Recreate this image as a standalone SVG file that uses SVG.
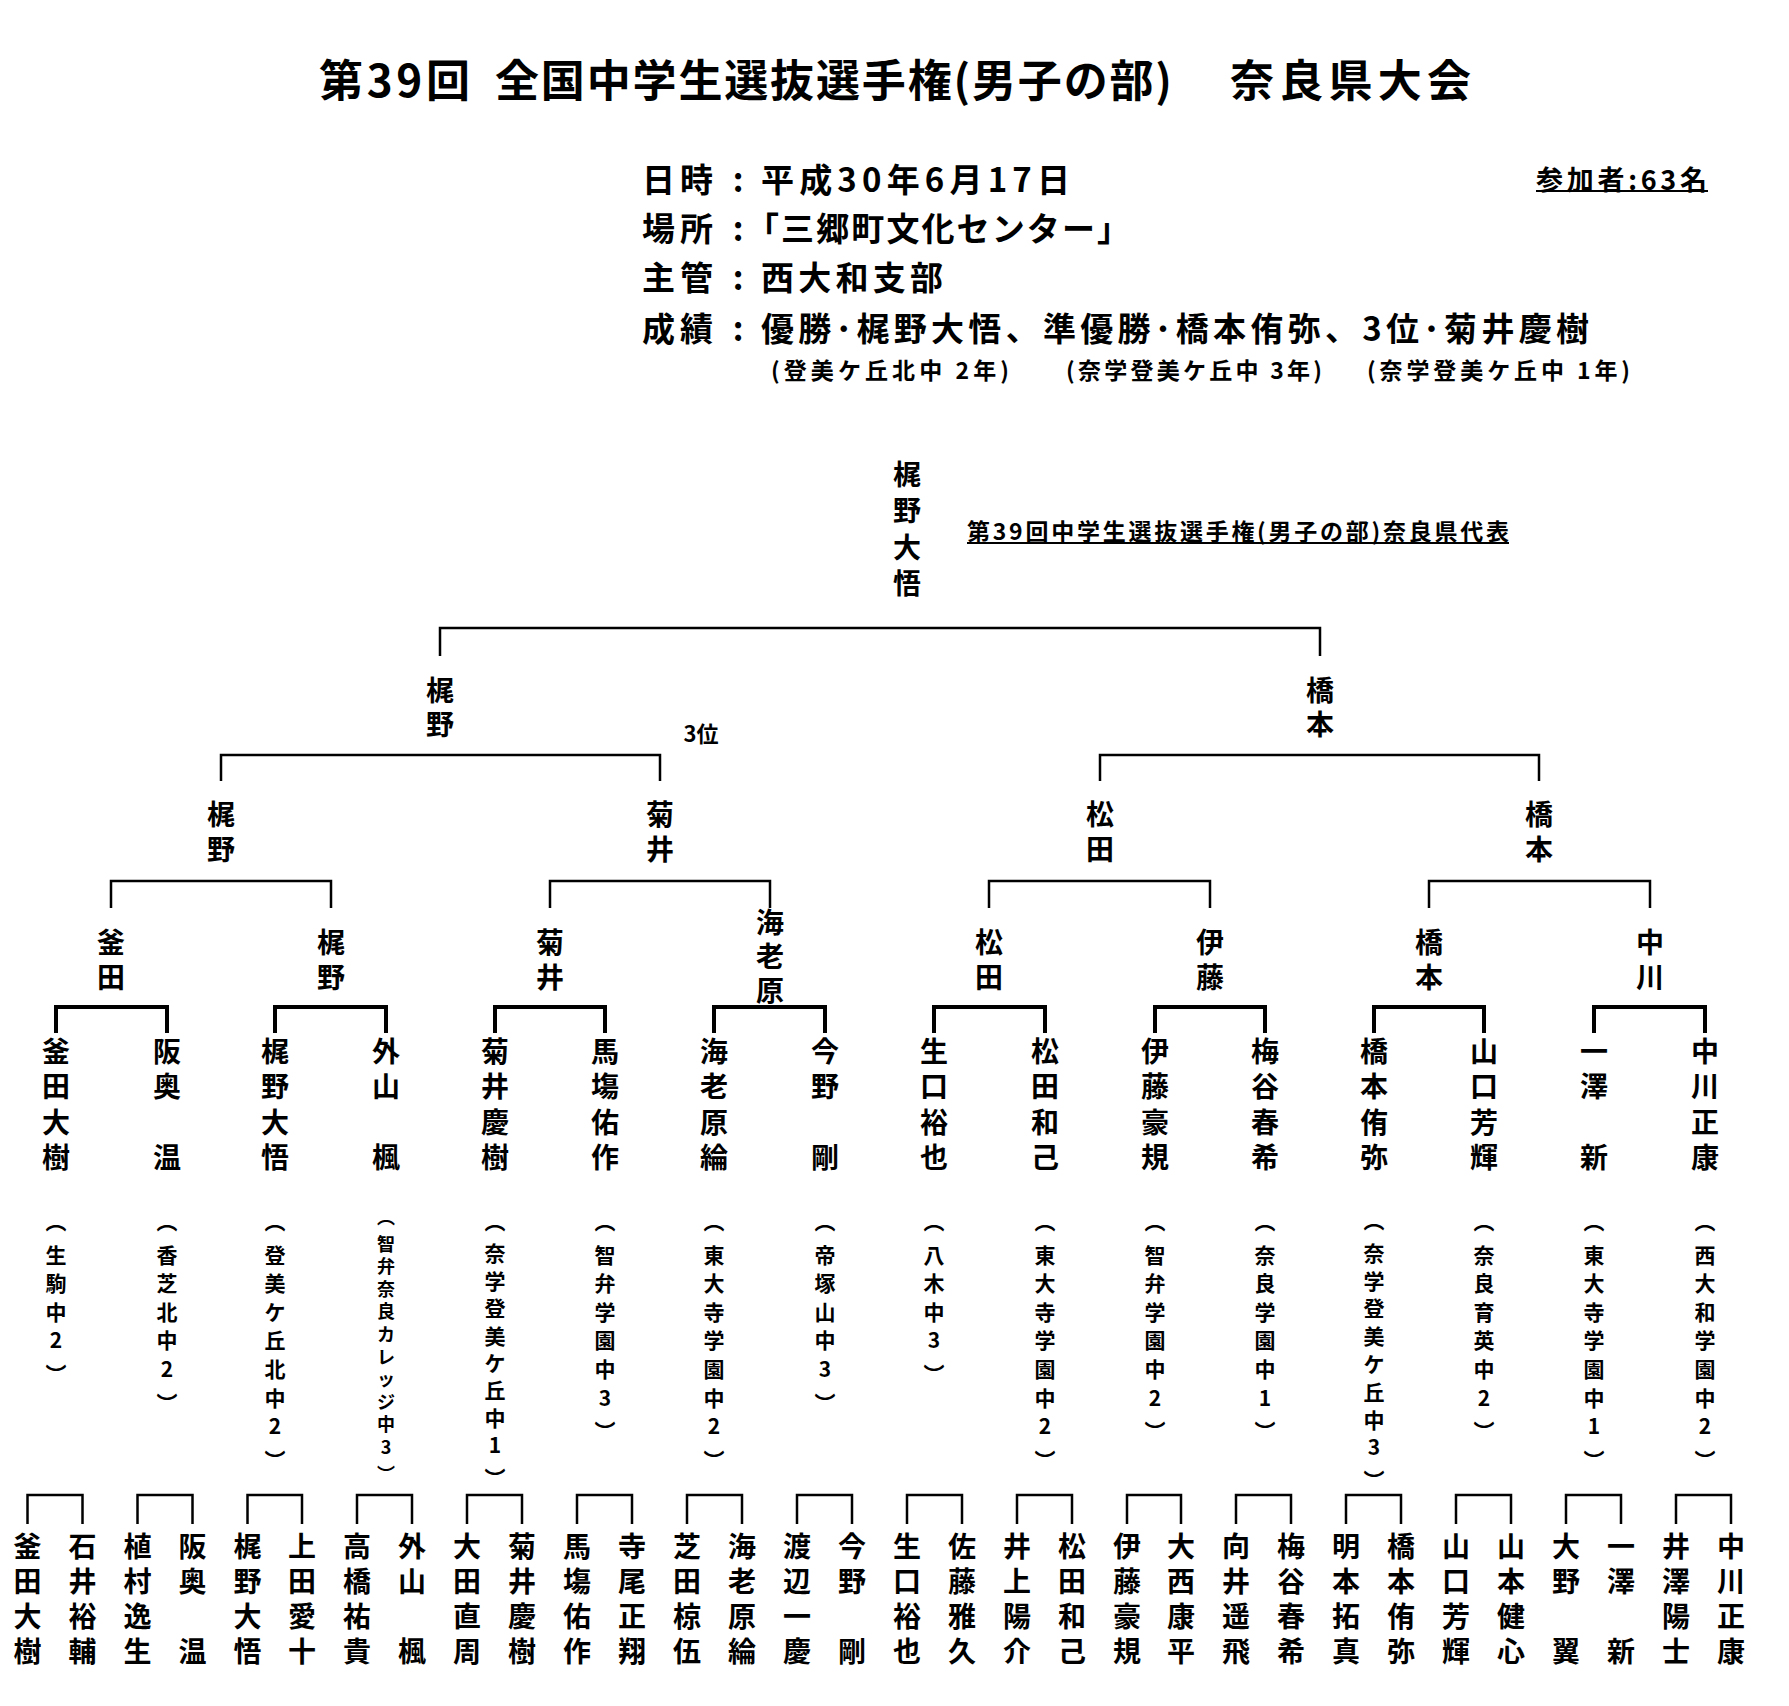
<svg xmlns="http://www.w3.org/2000/svg" width="1789" height="1706" viewBox="0 0 1789 1706">
<style>
text{font-family:"Noto Sans CJK JP","Noto Sans CJK SC",sans-serif;font-weight:700;fill:#000}
.c{text-anchor:middle;dominant-baseline:central}
.s{dominant-baseline:central}
.nm{font-size:28px}
.sc{font-size:21px}
.sc2{font-size:18px}
.ln{stroke:#000;stroke-width:2.5;fill:none}
.lt{stroke-width:4}
.ul{stroke:#000;stroke-width:2}
</style>
<rect width="1789" height="1706" fill="#fff"/>
<g id="title">
<text class="s" x="319" y="78" font-size="44" textLength="151">第39回</text>
<text class="s" x="495" y="78" font-size="44" textLength="677">全国中学生選抜選手権(男子の部)</text>
<text class="s" x="1230" y="78" font-size="44" textLength="241">奈良県大会</text>
</g>
<g id="info">
<text class="s" x="642" y="178" font-size="33" textLength="71">日時</text>
<text class="c" x="738" y="178" font-size="33">:</text>
<text class="s" x="761" y="178" font-size="33" textLength="309">平成30年6月17日</text>
<text class="s" x="642" y="227" font-size="33" textLength="71">場所</text>
<text class="c" x="738" y="227" font-size="33">:</text>
<text class="s" x="746" y="227" font-size="33" textLength="384">「三郷町文化センター」</text>
<text class="s" x="642" y="276" font-size="33" textLength="71">主管</text>
<text class="c" x="738" y="276" font-size="33">:</text>
<text class="s" x="761" y="276" font-size="33" textLength="182">西大和支部</text>
<text class="s" x="642" y="327" font-size="33" textLength="71">成績</text>
<text class="c" x="738" y="327" font-size="33">:</text>
<text class="s" x="761" y="327" font-size="33" textLength="828">優勝･梶野大悟、準優勝･橋本侑弥、3位･菊井慶樹</text>
<text class="s" x="771" y="369" font-size="23" textLength="238">(登美ケ丘北中 2年)</text>
<text class="s" x="1066" y="369" font-size="23" textLength="256">(奈学登美ケ丘中 3年)</text>
<text class="s" x="1367" y="369" font-size="23" textLength="263">(奈学登美ケ丘中 1年)</text>
<text class="s" x="1536" y="178" font-size="27" textLength="171">参加者:63名</text>
<line class="ul" x1="1536" y1="191" x2="1708" y2="191"/>
</g>
<g id="representative">
<text class="s" x="967" y="530" font-size="23" textLength="542">第39回中学生選抜選手権(男子の部)奈良県代表</text>
<line class="ul" x1="967" y1="543" x2="1509" y2="543"/>
</g>
<g id="third-place"><text class="c" x="701" y="732" font-size="22">3位</text></g>

<g id="connectors">
<path class="ln" d="M440 656V628H1320V656"/>
<path class="ln" d="M221 781V755H660V781M1100 781V755H1539V781"/>
<path class="ln" d="M111 908V881H331V908M550 908V881H770V908M989 908V881H1210V908M1429 908V881H1650V908"/>
<path class="ln lt" d="M56 1033V1007H167V1033M275 1033V1007H386V1033M495 1033V1007H605V1033M714 1033V1007H825V1033M934 1033V1007H1045V1033M1155 1033V1007H1265V1033M1374 1033V1007H1484V1033M1594 1033V1007H1705V1033"/>
<path class="ln" d="M27.5 1524V1495H82.5V1524M137.5 1524V1495H192.5V1524M247.5 1524V1495H302V1524M357 1524V1495H412V1524M467 1524V1495H522V1524M577 1524V1495H632V1524M687 1524V1495H742V1524M797 1524V1495H852V1524M907 1524V1495H962V1524M1017 1524V1495H1072V1524M1127 1524V1495H1181V1524M1236 1524V1495H1291V1524M1346 1524V1495H1401V1524M1456 1524V1495H1511V1524M1566 1524V1495H1621V1524M1676 1524V1495H1731V1524"/>
</g>

<g id="winner"><text class="c nm" x="907 907 907 907" y="473 509 546 582">梶野大悟</text></g>

<g id="final-1"><text class="c nm" x="440 440" y="689 723">梶野</text></g>
<g id="final-2"><text class="c nm" x="1320 1320" y="689 723">橋本</text></g>

<g id="semi-1"><text class="c nm" x="221 221" y="813 848">梶野</text></g>
<g id="semi-2"><text class="c nm" x="660 660" y="813 848">菊井</text></g>
<g id="semi-3"><text class="c nm" x="1100 1100" y="813 848">松田</text></g>
<g id="semi-4"><text class="c nm" x="1539 1539" y="813 848">橋本</text></g>

<g id="qf-1"><text class="c nm" x="111 111" y="941 976">釜田</text></g>
<g id="qf-2"><text class="c nm" x="331 331" y="941 976">梶野</text></g>
<g id="qf-3"><text class="c nm" x="550 550" y="941 976">菊井</text></g>
<g id="qf-4"><text class="c nm" x="770 770 770" y="921 955 989">海老原</text></g>
<g id="qf-5"><text class="c nm" x="989 989" y="941 976">松田</text></g>
<g id="qf-6"><text class="c nm" x="1210 1210" y="941 976">伊藤</text></g>
<g id="qf-7"><text class="c nm" x="1429 1429" y="941 976">橋本</text></g>
<g id="qf-8"><text class="c nm" x="1650 1650" y="941 976">中川</text></g>

<g id="r16-1"><text class="c nm" x="56 56 56 56" y="1050 1085 1121 1156">釜田大樹</text>
<text class="c sc" x="56 56 56 56 56 56" y="1220 1254 1282 1311 1339 1373">︵生駒中2︶</text></g>
<g id="r16-2"><text class="c nm" x="167 167 167" y="1050 1085 1156">阪奥温</text>
<text class="c sc" x="167 167 167 167 167 167 167" y="1220 1254 1282 1311 1339 1368 1402">︵香芝北中2︶</text></g>
<g id="r16-3"><text class="c nm" x="275 275 275 275" y="1050 1085 1121 1156">梶野大悟</text>
<text class="c sc" x="275 275 275 275 275 275 275 275 275" y="1220 1254 1282 1311 1339 1368 1397 1425 1459">︵登美ケ丘北中2︶</text></g>
<g id="r16-4"><text class="c nm" x="386 386 386" y="1050 1085 1156">外山楓</text>
<text class="c sc2" x="386 386 386 386 386 386 386 386 386 386 386 386" y="1216 1243 1265 1288 1310 1333 1356 1378 1401 1423 1446 1473">︵智弁奈良カレッジ中3︶</text></g>
<g id="r16-5"><text class="c nm" x="495 495 495 495" y="1050 1085 1121 1156">菊井慶樹</text>
<text class="c sc" x="495 495 495 495 495 495 495 495 495 495" y="1220 1252 1280 1307 1335 1362 1389 1417 1444 1477">︵奈学登美ケ丘中1︶</text></g>
<g id="r16-6"><text class="c nm" x="605 605 605 605" y="1050 1085 1121 1156">馬塲佑作</text>
<text class="c sc" x="605 605 605 605 605 605 605 605" y="1220 1254 1282 1311 1339 1368 1397 1430">︵智弁学園中3︶</text></g>
<g id="r16-7"><text class="c nm" x="714 714 714 714" y="1050 1085 1121 1156">海老原綸</text>
<text class="c sc" x="714 714 714 714 714 714 714 714 714" y="1220 1254 1282 1311 1339 1368 1397 1425 1459">︵東大寺学園中2︶</text></g>
<g id="r16-8"><text class="c nm" x="825 825 825" y="1050 1085 1156">今野剛</text>
<text class="c sc" x="825 825 825 825 825 825 825" y="1220 1254 1282 1311 1339 1368 1402">︵帝塚山中3︶</text></g>
<g id="r16-9"><text class="c nm" x="934 934 934 934" y="1050 1085 1121 1156">生口裕也</text>
<text class="c sc" x="934 934 934 934 934 934" y="1220 1254 1282 1311 1339 1373">︵八木中3︶</text></g>
<g id="r16-10"><text class="c nm" x="1045 1045 1045 1045" y="1050 1085 1121 1156">松田和己</text>
<text class="c sc" x="1045 1045 1045 1045 1045 1045 1045 1045 1045" y="1220 1254 1282 1311 1339 1368 1397 1425 1459">︵東大寺学園中2︶</text></g>
<g id="r16-11"><text class="c nm" x="1155 1155 1155 1155" y="1050 1085 1121 1156">伊藤豪規</text>
<text class="c sc" x="1155 1155 1155 1155 1155 1155 1155 1155" y="1220 1254 1282 1311 1339 1368 1397 1430">︵智弁学園中2︶</text></g>
<g id="r16-12"><text class="c nm" x="1265 1265 1265 1265" y="1050 1085 1121 1156">梅谷春希</text>
<text class="c sc" x="1265 1265 1265 1265 1265 1265 1265 1265" y="1220 1254 1282 1311 1339 1368 1397 1430">︵奈良学園中1︶</text></g>
<g id="r16-13"><text class="c nm" x="1374 1374 1374 1374" y="1050 1085 1121 1156">橋本侑弥</text>
<text class="c sc" x="1374 1374 1374 1374 1374 1374 1374 1374 1374 1374" y="1219 1252 1280 1307 1335 1363 1391 1419 1446 1479">︵奈学登美ケ丘中3︶</text></g>
<g id="r16-14"><text class="c nm" x="1484 1484 1484 1484" y="1050 1085 1121 1156">山口芳輝</text>
<text class="c sc" x="1484 1484 1484 1484 1484 1484 1484 1484" y="1220 1254 1282 1311 1339 1368 1397 1430">︵奈良育英中2︶</text></g>
<g id="r16-15"><text class="c nm" x="1594 1594 1594" y="1050 1085 1156">一澤新</text>
<text class="c sc" x="1594 1594 1594 1594 1594 1594 1594 1594 1594" y="1220 1254 1282 1311 1339 1368 1397 1425 1459">︵東大寺学園中1︶</text></g>
<g id="r16-16"><text class="c nm" x="1705 1705 1705 1705" y="1050 1085 1121 1156">中川正康</text>
<text class="c sc" x="1705 1705 1705 1705 1705 1705 1705 1705 1705" y="1220 1254 1282 1311 1339 1368 1397 1425 1459">︵西大和学園中2︶</text></g>

<g id="r32-1"><text class="c nm" x="27.5 27.5 27.5 27.5" y="1545 1580 1615 1650">釜田大樹</text></g>
<g id="r32-2"><text class="c nm" x="82.5 82.5 82.5 82.5" y="1545 1580 1615 1650">石井裕輔</text></g>
<g id="r32-3"><text class="c nm" x="137.5 137.5 137.5 137.5" y="1545 1580 1615 1650">植村逸生</text></g>
<g id="r32-4"><text class="c nm" x="192.5 192.5 192.5" y="1545 1580 1650">阪奥温</text></g>
<g id="r32-5"><text class="c nm" x="247.5 247.5 247.5 247.5" y="1545 1580 1615 1650">梶野大悟</text></g>
<g id="r32-6"><text class="c nm" x="302 302 302 302" y="1545 1580 1615 1650">上田愛十</text></g>
<g id="r32-7"><text class="c nm" x="357 357 357 357" y="1545 1580 1615 1650">高橋祐貴</text></g>
<g id="r32-8"><text class="c nm" x="412 412 412" y="1545 1580 1650">外山楓</text></g>
<g id="r32-9"><text class="c nm" x="467 467 467 467" y="1545 1580 1615 1650">大田直周</text></g>
<g id="r32-10"><text class="c nm" x="522 522 522 522" y="1545 1580 1615 1650">菊井慶樹</text></g>
<g id="r32-11"><text class="c nm" x="577 577 577 577" y="1545 1580 1615 1650">馬塲佑作</text></g>
<g id="r32-12"><text class="c nm" x="632 632 632 632" y="1545 1580 1615 1650">寺尾正翔</text></g>
<g id="r32-13"><text class="c nm" x="687 687 687 687" y="1545 1580 1615 1650">芝田椋伍</text></g>
<g id="r32-14"><text class="c nm" x="742 742 742 742" y="1545 1580 1615 1650">海老原綸</text></g>
<g id="r32-15"><text class="c nm" x="797 797 797 797" y="1545 1580 1615 1650">渡辺一慶</text></g>
<g id="r32-16"><text class="c nm" x="852 852 852" y="1545 1580 1650">今野剛</text></g>
<g id="r32-17"><text class="c nm" x="907 907 907 907" y="1545 1580 1615 1650">生口裕也</text></g>
<g id="r32-18"><text class="c nm" x="962 962 962 962" y="1545 1580 1615 1650">佐藤雅久</text></g>
<g id="r32-19"><text class="c nm" x="1017 1017 1017 1017" y="1545 1580 1615 1650">井上陽介</text></g>
<g id="r32-20"><text class="c nm" x="1072 1072 1072 1072" y="1545 1580 1615 1650">松田和己</text></g>
<g id="r32-21"><text class="c nm" x="1127 1127 1127 1127" y="1545 1580 1615 1650">伊藤豪規</text></g>
<g id="r32-22"><text class="c nm" x="1181 1181 1181 1181" y="1545 1580 1615 1650">大西康平</text></g>
<g id="r32-23"><text class="c nm" x="1236 1236 1236 1236" y="1545 1580 1615 1650">向井遥飛</text></g>
<g id="r32-24"><text class="c nm" x="1291 1291 1291 1291" y="1545 1580 1615 1650">梅谷春希</text></g>
<g id="r32-25"><text class="c nm" x="1346 1346 1346 1346" y="1545 1580 1615 1650">明本拓真</text></g>
<g id="r32-26"><text class="c nm" x="1401 1401 1401 1401" y="1545 1580 1615 1650">橋本侑弥</text></g>
<g id="r32-27"><text class="c nm" x="1456 1456 1456 1456" y="1545 1580 1615 1650">山口芳輝</text></g>
<g id="r32-28"><text class="c nm" x="1511 1511 1511 1511" y="1545 1580 1615 1650">山本健心</text></g>
<g id="r32-29"><text class="c nm" x="1566 1566 1566" y="1545 1580 1650">大野翼</text></g>
<g id="r32-30"><text class="c nm" x="1621 1621 1621" y="1545 1580 1650">一澤新</text></g>
<g id="r32-31"><text class="c nm" x="1676 1676 1676 1676" y="1545 1580 1615 1650">井澤陽士</text></g>
<g id="r32-32"><text class="c nm" x="1731 1731 1731 1731" y="1545 1580 1615 1650">中川正康</text></g>
</svg>
